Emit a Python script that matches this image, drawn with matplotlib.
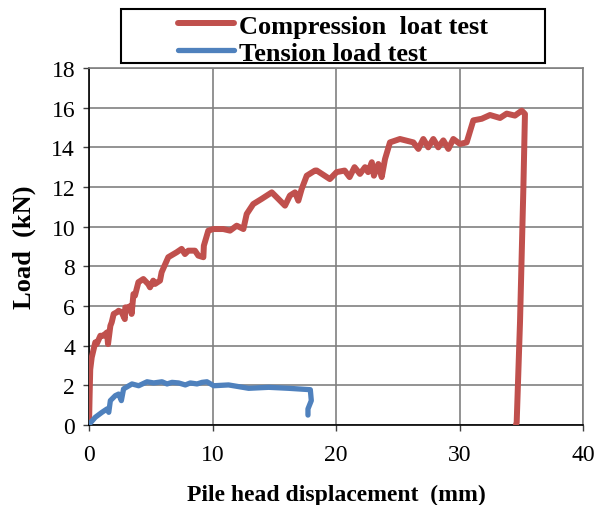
import matplotlib
matplotlib.use("Agg")
import matplotlib.pyplot as plt
from matplotlib.patches import Rectangle

# Compression load test (displacement mm, load kN)
comp_x = [0.0, 0.05, 0.1, 0.22, 0.51, 0.62, 0.92, 1.16, 1.46, 1.54, 1.73, 1.84, 2.0, 2.24, 2.4,
          2.65, 2.9, 2.94, 3.19, 3.35, 3.45, 3.6, 3.72, 4.0, 4.4, 4.8, 4.94, 5.2, 5.34, 5.75, 5.88,
          6.42, 7.1, 7.5, 7.77, 8.04, 8.58, 8.85, 9.26, 9.3, 9.66, 10.07, 10.87, 11.42, 11.96, 12.5,
          12.77, 13.3, 13.98, 14.8, 15.33, 15.87, 16.27, 16.68, 16.95, 17.22, 17.63, 18.3, 18.44,
          19.5, 20.05, 20.7, 21.1, 21.5, 21.94, 22.35, 22.6, 22.9, 23.07, 23.43, 23.7, 23.97, 24.37,
          25.18, 26.26, 26.67, 27.07, 27.47, 27.88, 28.28, 28.69, 29.1, 29.5, 30.04, 30.58, 31.12,
          31.8, 32.47, 33.28, 33.82, 34.49, 35.04, 35.3, 35.17, 34.9, 34.63, 34.57]
comp_y = [0.0, 1.5, 2.8, 3.41, 4.17, 4.08, 4.5, 4.5, 4.67, 4.08, 5.0, 5.18, 5.6, 5.68, 5.76,
          5.68, 5.34, 5.93, 5.93, 6.0, 5.6, 6.6, 6.52, 7.2, 7.36, 7.1, 6.94, 7.28, 7.11, 7.28, 7.7,
          8.46, 8.71, 8.88, 8.62, 8.79, 8.79, 8.54, 8.46, 9.04, 9.8, 9.88, 9.88, 9.8, 10.05, 9.88,
          10.64, 11.14, 11.4, 11.73, 11.4, 11.06, 11.57, 11.73, 11.31, 11.9, 12.57, 12.83, 12.83,
          12.4, 12.75, 12.83, 12.5, 13.0, 12.66, 13.0, 12.75, 13.25, 12.57, 13.16, 12.5, 13.41, 14.25,
          14.42, 14.25, 13.92, 14.42, 14.0, 14.42, 14.0, 14.35, 13.92, 14.42, 14.17, 14.25, 15.36,
          15.44, 15.63, 15.48, 15.7, 15.6, 15.85, 15.68, 11.9, 5.2, 0.13, 0.0]

# Tension load test
tens_x = [0.03, 0.51, 1.05, 1.46, 1.6, 1.73, 2.13, 2.4, 2.62, 2.8, 3.48, 4.02, 4.7, 5.24, 5.91,
          6.32, 6.72, 7.26, 7.8, 8.2, 8.75, 9.15, 9.55, 10.1, 11.3, 12.93, 14.55, 16.17, 17.92,
          18.0, 17.73, 17.73]
tens_y = [0.05, 0.39, 0.64, 0.81, 0.64, 1.23, 1.48, 1.56, 1.23, 1.82, 2.07, 1.98, 2.18, 2.12, 2.18,
          2.07, 2.15, 2.12, 2.02, 2.12, 2.07, 2.15, 2.18, 1.98, 2.02, 1.85, 1.9, 1.85, 1.78,
          1.23, 0.81, 0.5]

x_ticks = [0, 10, 20, 30, 40]
y_ticks = [0, 2, 4, 6, 8, 10, 12, 14, 16, 18]

plt.rcParams['font.family'] = ['Liberation Serif', 'DejaVu Serif']

fig = plt.figure(figsize=(5.97, 5.06), dpi=100)
ax = fig.add_axes([89/597, 80/506, 494/597, 357/506])

l1, = ax.plot(comp_x, comp_y, color='#C0504D', lw=4.3, solid_capstyle='round',
              solid_joinstyle='round', label='Compression  loat test', zorder=3)
l2, = ax.plot(tens_x, tens_y, color='#4F81BD', lw=3.8, solid_capstyle='round',
              solid_joinstyle='round', label='Tension load test', zorder=3)

ax.set_xlim(0, 40)
ax.set_ylim(0, 18)
ax.set_xticks(x_ticks)
ax.set_yticks(y_ticks)
ax.grid(True, color='#808080', lw=1.2)
ax.set_axisbelow(True)
for s in ['top', 'right']:
    ax.spines[s].set_color('#808080')
    ax.spines[s].set_linewidth(1.2)
for s in ['left', 'bottom']:
    ax.spines[s].set_color('black')
    ax.spines[s].set_linewidth(1.2)
ax.tick_params(direction='out', length=4, width=1, color='#404040', labelsize=17)
ax.tick_params(axis='x', pad=10)
ax.tick_params(axis='y', pad=6)

ax.set_xlabel('Pile head displacement  (mm)', fontsize=17, fontweight='bold', labelpad=13)
ax.set_ylabel('Load  (kN)', fontsize=19, fontweight='bold', labelpad=11)

# legend frame
fig.patches.append(Rectangle((121/597, 1 - 64/506), (545-121)/597, (64-10)/506,
                             transform=fig.transFigure, fill=False, edgecolor='black', lw=1.5))
leg = fig.legend(handles=[l1, l2], loc='upper left', bbox_to_anchor=(165/597, 1 - 2/506),
                 frameon=False, prop={'weight': 'bold', 'size': 19}, handlelength=2.1,
                 handletextpad=0.2, labelspacing=0.13, borderpad=0.0)

fig.savefig('out.png', dpi=100)
